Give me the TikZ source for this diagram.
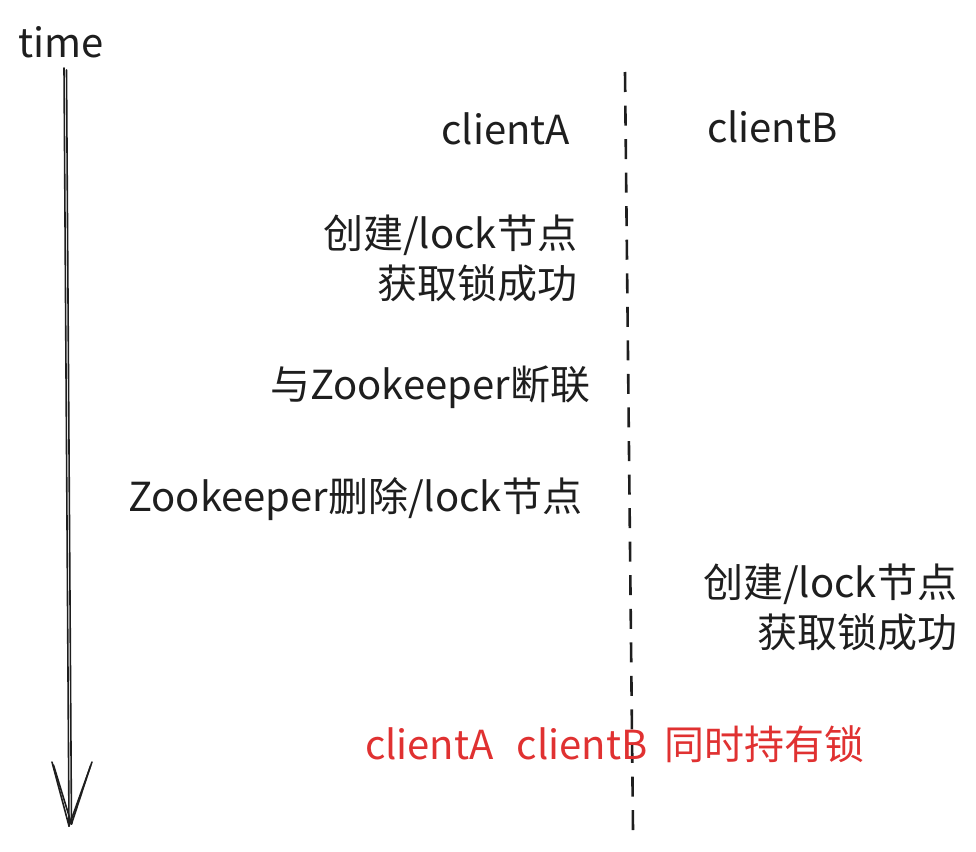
\documentclass[tikz,border=0pt]{standalone}
\usepackage{fontspec}
\setmainfont{Noto Sans CJK SC}
\definecolor{ink}{HTML}{1E1E1E}
\definecolor{redink}{HTML}{E03131}
\tikzset{
  lbl/.style={inner sep=0pt, outer sep=0pt, text=ink, font=\fontsize{40}{50}\selectfont},
  redlbl/.style={lbl, text=redink},
  pen/.style={draw=ink, line width=1.6pt, line cap=round, line join=round},
  divider/.style={draw=ink, line width=2.6pt, dash pattern=on 20pt off 13.55pt}
}
\begin{document}
\begin{tikzpicture}[x=1pt,y=-1pt]
\useasboundingbox (0,0) rectangle (976,851);
% time axis
\node[lbl, anchor=base west] (time) at (18,57) {time};
\coordinate (ts1) at (64,68);
\coordinate (ts2) at (66.5,70);
\coordinate (te1) at (69,826);
\coordinate (te2) at (71.5,824);
\coordinate (bl1) at (52,762);
\coordinate (bl2) at (53.5,765);
\coordinate (br1) at (92,762);
\coordinate (br2) at (90.5,766);
\draw[pen] (ts1) -- (te1);
\draw[pen] (ts2) -- (te2);
\draw[pen] (bl1) -- (te1);
\draw[pen] (bl2) -- (te2);
\draw[pen] (br1) -- (te1);
\draw[pen] (br2) -- (te2);
% divider
\coordinate (dtop) at (625,72);
\coordinate (dbot) at (633,830);
\draw[divider] (dtop) -- (dbot);
% client labels
\node[lbl, anchor=base east] (ca) at (570,144) {clientA};
\node[lbl, anchor=base west] (cb) at (707,142) {clientB};
% client A events
\node[lbl, anchor=base east] (a1) at (577,248) {创建/lock节点};
\node[lbl, anchor=base east] (a2) at (577,298) {获取锁成功};
\node[lbl, anchor=base east] (a3) at (590,399) {与Zookeeper断联};
\node[lbl, anchor=base east] (a4) at (582,511) {Zookeeper删除/lock节点};
% client B events
\node[lbl, anchor=base east] (b1) at (957,597) {创建/lock节点};
\node[lbl, anchor=base east] (b2) at (957,647) {获取锁成功};
% result
\node[redlbl, anchor=base west] (res) at (365,759) {clientA\hspace{14pt} clientB\hspace{8pt} 同时持有锁};
\end{tikzpicture}
\end{document}
